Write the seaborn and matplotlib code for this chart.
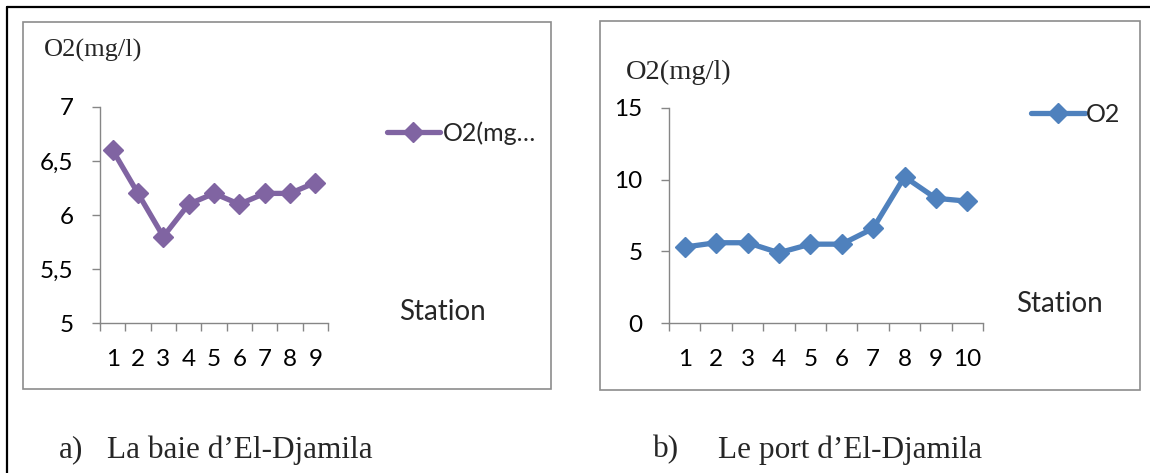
import numpy as np
import pandas as pd
import matplotlib
matplotlib.use("Agg")
import matplotlib.pyplot as plt
import seaborn as sns
from matplotlib.patches import Rectangle
from matplotlib.lines import Line2D
from matplotlib.ticker import FixedLocator, FixedFormatter

# ---------------- data ----------------
stations_a = [1, 2, 3, 4, 5, 6, 7, 8, 9]
o2_a = [6.6, 6.2, 5.8, 6.1, 6.2, 6.1, 6.2, 6.2, 6.3]
yticks_a = [5, 5.5, 6, 6.5, 7]
yticklabels_a = ["5", "5,5", "6", "6,5", "7"]
legend_a = "O2(mg…"

stations_b = [1, 2, 3, 4, 5, 6, 7, 8, 9, 10]
o2_b = [5.3, 5.6, 5.6, 4.9, 5.5, 5.5, 6.6, 10.2, 8.7, 8.5]
yticks_b = [0, 5, 10, 15]
yticklabels_b = ["0", "5", "10", "15"]
legend_b = "O2"

ylabel_text = "O2(mg/l)"
xlabel_text = "Station"
caption_a = ("a)", "La baie d\u2019El-Djamila")
caption_b = ("b)", "Le port d\u2019El-Djamila")

# ---------------- style ----------------
sns.set_style("white")
plt.rcParams["font.family"] = ["Lato", "DejaVu Sans"]
SERIF = ["Liberation Serif", "DejaVu Serif"]

W, H = 1150, 473
fig = plt.figure(figsize=(W / 100, H / 100), dpi=100)
fig.patch.set_facecolor("white")


def fx(x):
    return x / W


def fy(y):
    return 1 - y / H


AXIS_GRAY = "#868686"
BOX_GRAY = "#8c8c8c"


def make_panel(x0, x1, ytop, ybot, stations, values, yticks, yticklabels, ylim,
               color, label, leg_x, leg_y, leg_hl, leg_pad):
    ax = fig.add_axes([fx(x0), fy(ybot), fx(x1) - fx(x0), (ybot - ytop) / H])
    df = pd.DataFrame({"Station": stations, "O2": values, "serie": label})
    sns.lineplot(data=df, x="Station", y="O2", hue="serie", palette=[color],
                 marker="D", markersize=10, markeredgecolor=color,
                 markeredgewidth=1, linewidth=3.8, ax=ax)
    n = len(stations)
    ax.set_xlim(0.5, n + 0.5)
    ax.set_ylim(*ylim)
    for s in ["top", "right"]:
        ax.spines[s].set_visible(False)
    for s in ["left", "bottom"]:
        ax.spines[s].set_color(AXIS_GRAY)
        ax.spines[s].set_linewidth(1.0)
    ax.set_facecolor("none")
    # y ticks
    ax.yaxis.set_major_locator(FixedLocator(yticks))
    ax.yaxis.set_major_formatter(FixedFormatter(yticklabels))
    ax.tick_params(axis="y", which="major", direction="out", length=6,
                   width=1, color=AXIS_GRAY, labelsize=17.5, pad=13,
                   labelcolor="black", left=True)
    # x ticks: boundaries as major, labels at centres as minor
    bounds = [s - 0.5 for s in stations] + [stations[-1] + 0.5]
    ax.xaxis.set_major_locator(FixedLocator(bounds))
    ax.xaxis.set_major_formatter(FixedFormatter([""] * len(bounds)))
    ax.xaxis.set_minor_locator(FixedLocator(stations))
    ax.xaxis.set_minor_formatter(FixedFormatter([str(s) for s in stations]))
    ax.tick_params(axis="x", which="major", direction="out", length=6,
                   width=1, color=AXIS_GRAY, bottom=True)
    ax.tick_params(axis="x", which="minor", length=0, labelsize=17.5, pad=19,
                   labelcolor="black", bottom=True)
    ax.set_xlabel("")
    ax.set_ylabel("")
    ax.grid(False)
    ax.legend(loc="center left", bbox_to_anchor=(fx(leg_x), fy(leg_y)),
              bbox_transform=fig.transFigure, frameon=False,
              fontsize=18, handlelength=leg_hl, handletextpad=leg_pad,
              borderpad=0, borderaxespad=0, title=None)
    return ax


make_panel(100, 328, 107, 323, stations_a, o2_a, yticks_a, yticklabels_a,
           (5, 7), "#8064A2", legend_a, 387, 133, 2.1, 0.15)
make_panel(669, 983, 108, 323, stations_b, o2_b, yticks_b, yticklabels_b,
           (0, 15), "#4F81BD", legend_b, 1031, 114, 2.15, 0.05)

# chart boxes
for (x0, y0, x1, y1) in [(23, 22, 551, 389), (600, 21, 1140, 390)]:
    fig.patches.append(Rectangle((fx(x0), fy(y1)), fx(x1) - fx(x0),
                                 (y1 - y0) / H, transform=fig.transFigure,
                                 fill=False, edgecolor=BOX_GRAY, linewidth=1.2))

# table frame lines
fig.lines.append(Line2D([fx(7), 1], [fy(7), fy(7)], transform=fig.transFigure,
                        color="black", linewidth=1.6))
fig.lines.append(Line2D([fx(7), fx(7)], [0, fy(7)], transform=fig.transFigure,
                        color="black", linewidth=1.6))

# axis titles
fig.text(fx(44), fy(50), ylabel_text, family=SERIF, fontsize=19,
         ha="left", va="center")
fig.text(fx(626), fy(72), ylabel_text, family=SERIF, fontsize=20.5,
         ha="left", va="center")
fig.text(fx(399), fy(312), xlabel_text, fontsize=20, ha="left", va="center")
fig.text(fx(1016), fy(304), xlabel_text, fontsize=20, ha="left", va="center")

# captions
CAP_Y = 450
CAP_FS = 22.5
fig.text(fx(59), fy(CAP_Y), caption_a[0], family=SERIF, fontsize=CAP_FS,
         ha="left", va="center")
fig.text(fx(107), fy(CAP_Y), caption_a[1], family=SERIF, fontsize=CAP_FS,
         ha="left", va="center")
fig.text(fx(653), fy(CAP_Y), caption_b[0], family=SERIF, fontsize=CAP_FS,
         ha="left", va="center")
fig.text(fx(718), fy(CAP_Y), caption_b[1], family=SERIF, fontsize=CAP_FS,
         ha="left", va="center")

fig.savefig("out.png", dpi=100, facecolor="white")
